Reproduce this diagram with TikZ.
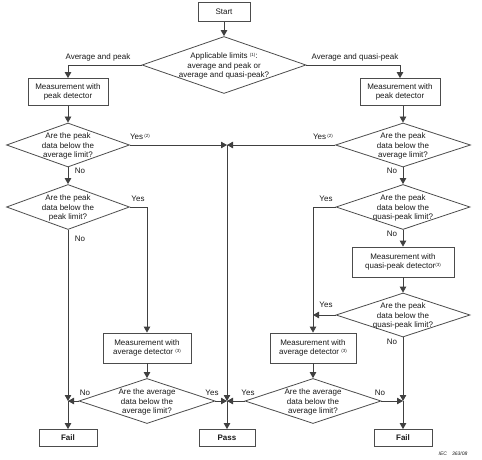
\documentclass[tikz,border=0pt]{standalone}
\usepackage{fontspec}
\setmainfont{Liberation Sans}
\usetikzlibrary{shapes.geometric,arrows.meta}
\newcommand\supr[1]{\raisebox{2.2pt}{\fontsize{4.5}{5}\selectfont #1}}
\begin{document}
\begin{tikzpicture}[x=1pt,y=-1pt,
  every node/.style={font=\fontsize{8}{9.3}\selectfont, text=black!90},
  box/.style={draw=black!70, line width=0.8pt, rectangle, align=center, inner sep=1pt},
  dia/.style={draw=black!70, line width=0.8pt, diamond, inner sep=0pt},
  dtext/.style={align=center, inner sep=0pt},
  lab/.style={inner sep=0pt},
  line/.style={draw=black!75, line width=0.8pt},
  arr/.style={line, -{Triangle[length=6pt,width=6.5pt]}}]
\useasboundingbox (0,0) rectangle (482,460);
% nodes
\node[box, minimum width=52, minimum height=19] (start) at (224,12) {Start};
\node[dia, minimum width=164, minimum height=57] (d0) at (224,65) {};
\node[dtext] (d0t) at (224,66) {Applicable limits \supr{(1)}:\\average and peak or\\average and quasi-peak?};
\node[lab] (l0a) at (98,57) {Average and peak};
\node[lab] (l0b) at (355,57) {Average and quasi-peak};

\node[box, minimum width=80, minimum height=27] (pL) at (68,92) {Measurement with\\peak detector};
\node[box, minimum width=80, minimum height=27] (pR) at (400,92) {Measurement with\\peak detector};

\node[dia, minimum width=123, minimum height=44] (dL1) at (68,145) {};
\node[dtext] (dL1t) at (68,146) {Are the peak\\data below the\\average limit?};
\node[dia, minimum width=135, minimum height=44] (dR1) at (403,145) {};
\node[dtext] (dR1t) at (403,146) {Are the peak\\data below the\\average limit?};
\node[lab] (yL1) at (140,137) {Yes\,\supr{(2)}};
\node[lab] (yR1) at (323,137) {Yes\,\supr{(2)}};
\coordinate (j1) at (227,145);

\node[lab] (nL1) at (80,171) {No};
\node[lab] (nR1) at (392,171) {No};

\node[dia, minimum width=123, minimum height=45] (dL2) at (68,207) {};
\node[dtext] (dL2t) at (68,208) {Are the peak\\data below the\\peak limit?};
\node[dia, minimum width=134, minimum height=45] (dR2) at (403,207) {};
\node[dtext] (dR2t) at (403,208) {Are the peak\\data below the\\quasi-peak limit?};
\node[lab] (yL2) at (138,199) {Yes};
\node[lab] (yR2) at (326,199) {Yes};
\node[lab] (nL2) at (80,239) {No};
\node[lab] (nR2) at (392,234) {No};

\node[box, minimum width=102, minimum height=30] (qp) at (403,262) {Measurement with\\quasi-peak detector\supr{(3)}};

\node[dia, minimum width=134, minimum height=44] (dR3) at (403,315) {};
\node[dtext] (dR3t) at (403,316) {Are the peak\\data below the\\quasi-peak limit?};
\node[lab] (yR3) at (326,305) {Yes};
\node[lab] (nR3) at (392,342) {No};
\coordinate (jR1) at (313,315);

\node[box, minimum width=88, minimum height=30] (aL) at (147,348) {Measurement with\\average detector \supr{(3)}};
\node[box, minimum width=86, minimum height=30] (aR) at (313,348) {Measurement with\\average detector \supr{(3)}};

\node[dia, minimum width=136, minimum height=45] (dL3) at (147,401) {};
\node[dtext] (dL3t) at (147,402) {Are the average\\data below the\\average limit?};
\node[dia, minimum width=136, minimum height=45] (dR4) at (313,401) {};
\node[dtext] (dR4t) at (313,402) {Are the average\\data below the\\average limit?};
\node[lab] (nL3) at (85,393) {No};
\node[lab] (yL3) at (212,393) {Yes};
\node[lab] (yR4) at (248,393) {Yes};
\node[lab] (nR4) at (380,393) {No};
\coordinate (jL) at (68,401);
\coordinate (j2) at (227,401);
\coordinate (jR2) at (403,401);

\node[box, minimum width=58, minimum height=17, font=\fontsize{8}{9.3}\selectfont\bfseries] (failL) at (68,438) {Fail};
\node[box, minimum width=56, minimum height=17, font=\fontsize{8}{9.3}\selectfont\bfseries] (pass) at (227,438) {Pass};
\node[box, minimum width=58, minimum height=17, font=\fontsize{8}{9.3}\selectfont\bfseries] (failR) at (403,438) {Fail};
\node[lab, font=\fontsize{5}{6}\selectfont\itshape] (iec) at (453,454) {IEC\quad 363/08};

% connectors
\draw[arr] (start) -- (d0);
\draw[arr] (d0.west) -| (pL.north);
\draw[arr] (d0.east) -| (pR.north);
\draw[arr] (pL) -- (dL1);
\draw[arr] (pR.south -| dR1.north) -- (dR1);
\draw[arr] (dL1.east) -- (j1);
\draw[arr] (dR1.west) -- (j1);
\draw[arr] (j1) -- (j2);
\draw[arr] (j2) -- (pass);
\draw[arr] (dL1) -- (dL2);
\draw[arr] (dL2.east) -| (aL.north);
\draw[arr] (dL2.south) -- (jL);
\draw[arr] (jL) -- (failL);
\draw[arr] (aL) -- (dL3);
\draw[arr] (dL3.west) -- (jL);
\draw[arr] (dL3.east) -- (j2);
\draw[arr] (dR1) -- (dR2);
\draw[arr] (dR2.west) -| (aR.north);
\draw[arr] (dR2) -- (qp);
\draw[arr] (qp) -- (dR3);
\draw[arr] (dR3.west) -- (jR1);
\draw[arr] (dR3.south) -- (jR2);
\draw[arr] (jR2) -- (failR);
\draw[arr] (aR) -- (dR4);
\draw[arr] (dR4.west) -- (j2);
\draw[arr] (dR4.east) -- (jR2);
\end{tikzpicture}
\end{document}
